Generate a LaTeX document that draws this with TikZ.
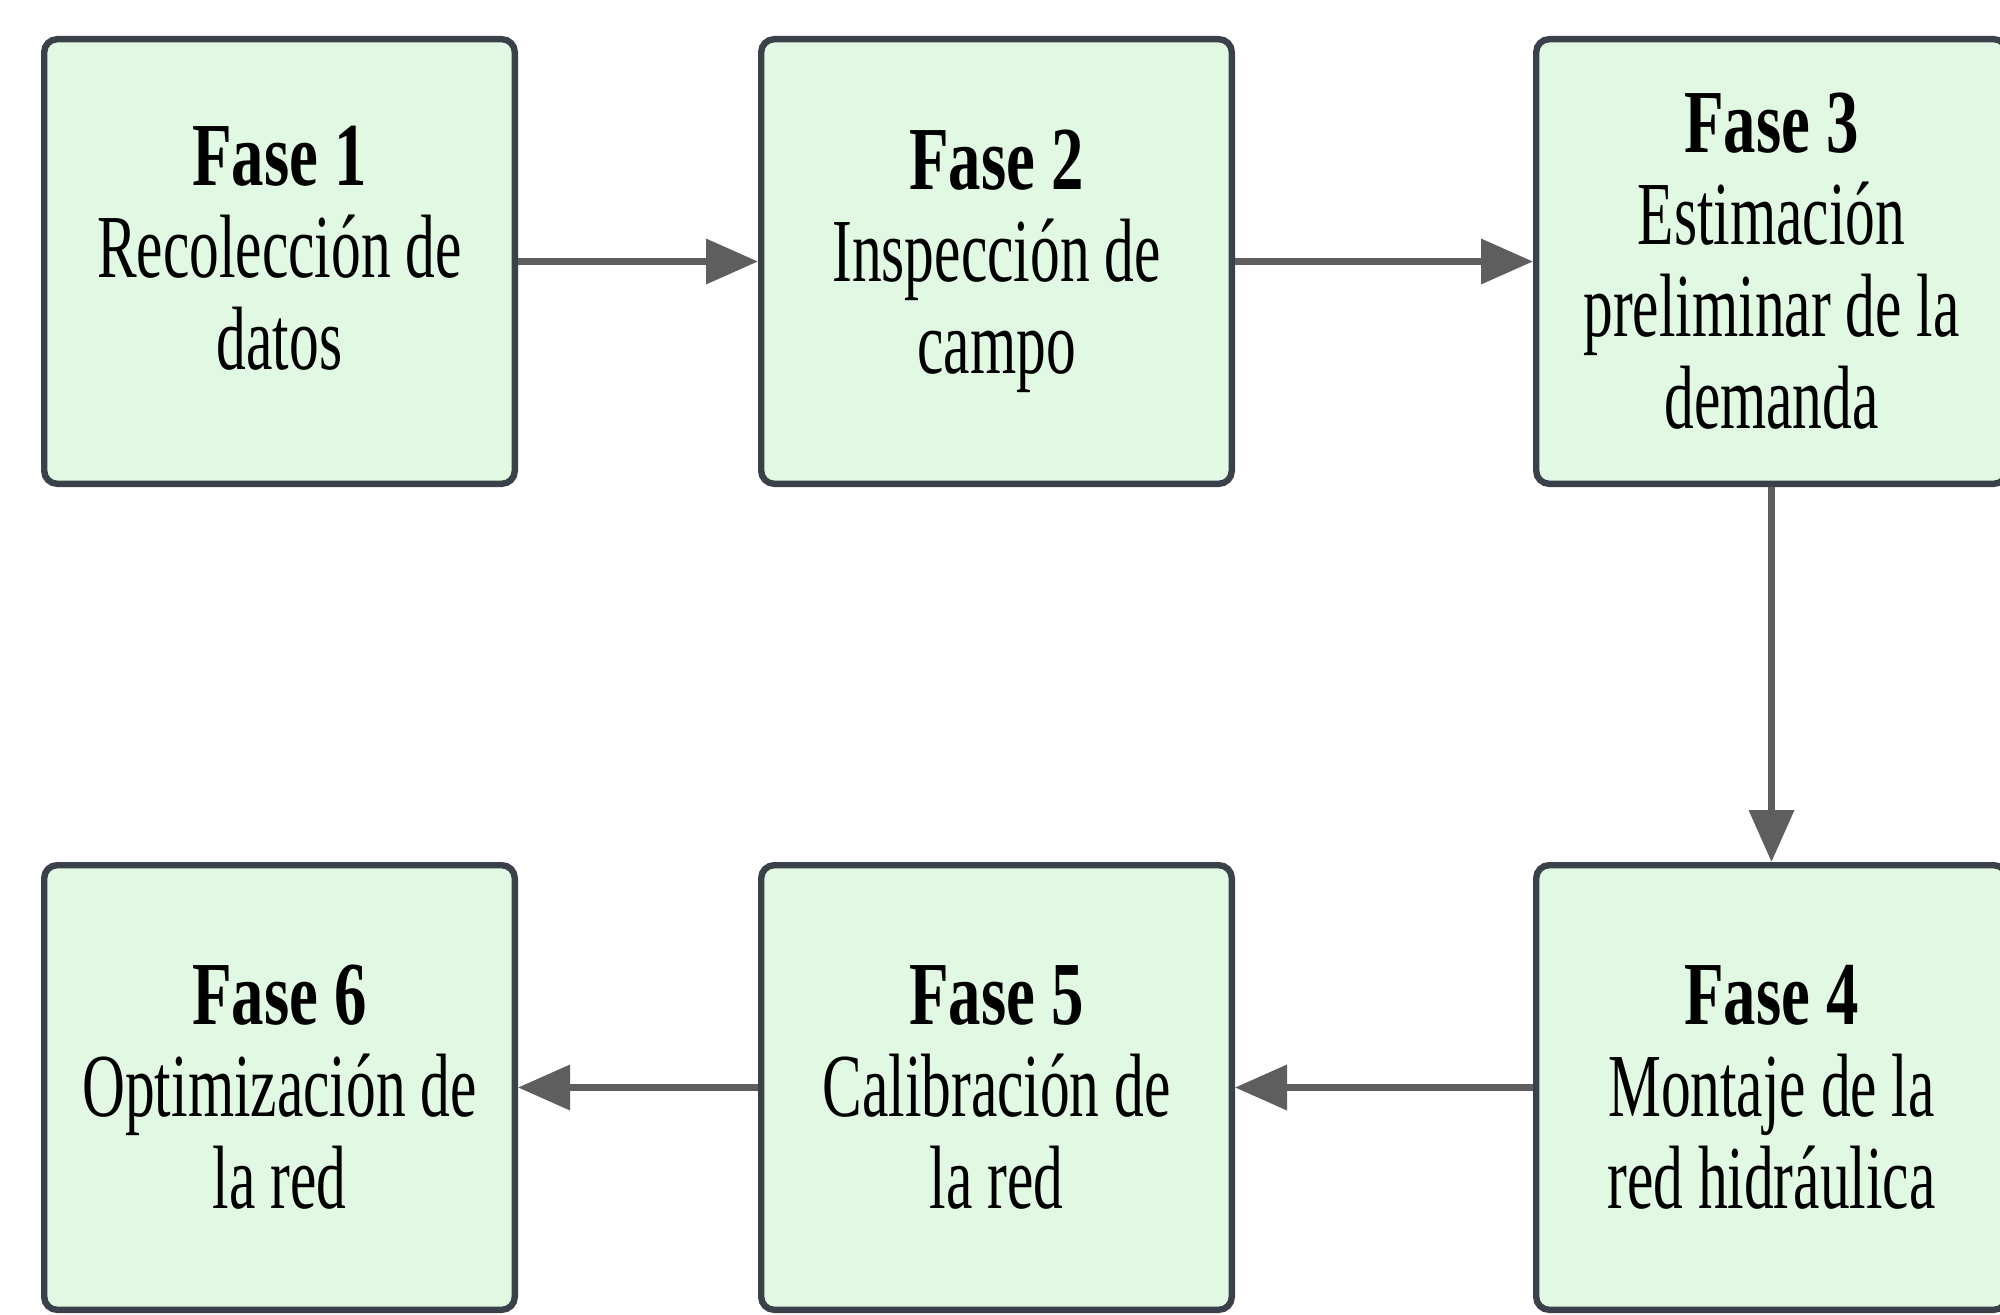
\documentclass[tikz,border=0pt]{standalone}
\usepackage{fontspec}
\setmainfont{Liberation Serif}[FakeStretch=0.66, BoldFeatures={FakeStretch=0.72}]
\usepackage{tikz}
\usetikzlibrary{positioning, arrows.meta}
\definecolor{myboxgreen}{RGB}{225, 248, 226}
\definecolor{myboxborder}{RGB}{58, 65, 75}
\definecolor{myarrowgrey}{RGB}{94, 94, 94}

\begin{document}
\begin{tikzpicture}[phase/.style={draw = myboxborder, fill = myboxgreen, line width = 3.2pt, rounded corners = 6.5pt, minimum width = 235.3pt, minimum height = 222.3pt, inner sep = 0pt, align = center, font = \fontsize{45}{46}\selectfont}, flow/.style={draw = myarrowgrey, line width = 3.5pt, -{Triangle[length = 26pt, width = 22pt]}}]
  \clip (0,0) rectangle (1000pt, 657pt);
  % nodes
  \node [phase] (recoleccion) at (139.75pt, 526.25pt) {\textbf{Fase 1}\\ Recolección de\\ datos\strut};
  \node [phase][right = 120pt of recoleccion] (inspeccion) {\textbf{Fase 2}\\ Inspección de\\ campo};
  \node [phase][right = 149pt of inspeccion] (estimacion) {\textbf{Fase 3}\\ Estimación\\ preliminar de la\\ demanda};

  \node [phase][below = 187.5pt of estimacion] (montaje) {\textbf{Fase 4}\\ Montaje de la\\ red hidráulica};
  \node [phase][left = 149pt of montaje] (calibracion) {\textbf{Fase 5}\\ Calibración de\\ la red};
  \node [phase][left = 120pt of calibracion] (optimizacion) {\textbf{Fase 6}\\ Optimización de\\ la red};

  % edges
  \draw [flow] (recoleccion) to (inspeccion);
  \draw [flow] (inspeccion) to (estimacion);
  \draw [flow] (estimacion) to (montaje);
  \draw [flow] (montaje) to (calibracion);
  \draw [flow] (calibracion) to (optimizacion);
\end{tikzpicture}
\end{document}
